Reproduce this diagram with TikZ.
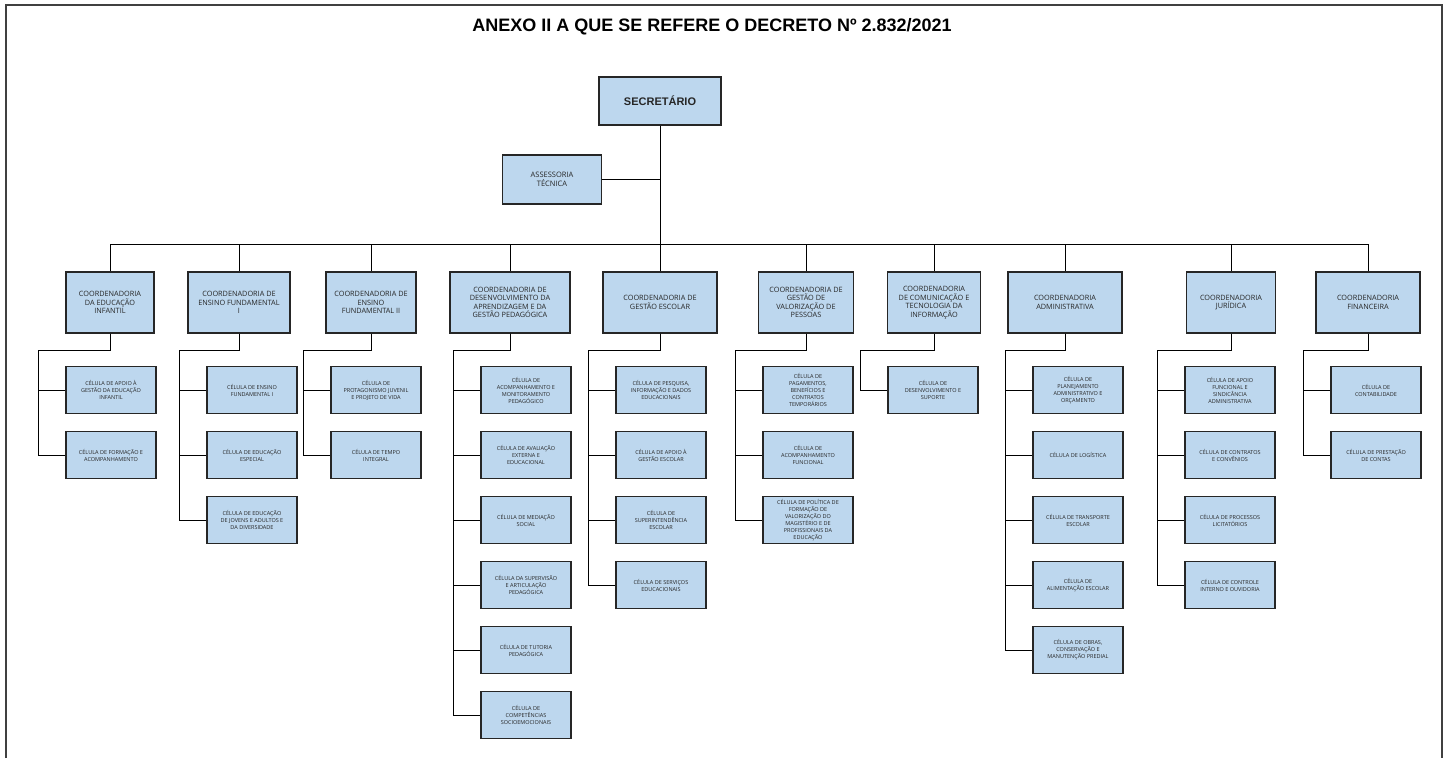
\documentclass[tikz,border=0pt]{standalone}
\usepackage{fontspec}
\setmainfont{Open Sans}
\newfontfamily\titlefont{Liberation Sans}
\definecolor{boxblue}{RGB}{189,215,238}
\definecolor{boxline}{RGB}{38,38,38}

\begin{document}
\begin{tikzpicture}[x=1pt,y=-1pt,
    box/.style={draw=boxline,line width=1.1pt,fill=boxblue,align=center,inner sep=1pt,text=boxline},
    chief/.style={box,minimum width=122,minimum height=48,font=\titlefont\bfseries\fontsize{11}{13}\selectfont},
    advisor/.style={box,minimum width=99,minimum height=49,font=\fontsize{7.5}{8.5}\selectfont},
    coord/.style={box,minimum height=61,font=\fontsize{7.3}{8.5}\selectfont},
    cell/.style={box,minimum width=90,minimum height=47,font=\fontsize{5.5}{7}\selectfont},
    link/.style={line width=0.9pt}]
      \useasboundingbox (0,0) rectangle (1450,758);
      \draw[line width=1.2pt,black!75] (6,758) -- (6,5) -- (1442,5) -- (1442,758);

      \node[font=\titlefont\bfseries\fontsize{18}{20}\selectfont] (title) at (712,27) {ANEXO II A QUE SE REFERE O DECRETO Nº 2.832/2021};

      \node[chief] (sec) at (660,101) {SECRETÁRIO};
      \node[advisor] (ass) at (552,179.5) {ASSESSORIA\\TÉCNICA};

      \node[coord,minimum width=88] (c1) at (110,302.5) {COORDENADORIA\\DA EDUCAÇÃO\\INFANTIL};
      \node[coord,minimum width=102] (c2) at (239,302.5) {COORDENADORIA DE\\ENSINO FUNDAMENTAL\\I};
      \node[coord,minimum width=90] (c3) at (371,302.5) {COORDENADORIA DE\\ENSINO\\FUNDAMENTAL II};
      \node[coord,minimum width=120] (c4) at (510,302.5) {COORDENADORIA DE\\DESENVOLVIMENTO DA\\APRENDIZAGEM E DA\\GESTÃO PEDAGÓGICA};
      \node[coord,minimum width=114] (c5) at (660,302.5) {COORDENADORIA DE\\GESTÃO ESCOLAR};
      \node[coord,minimum width=95] (c6) at (806,302.5) {COORDENADORIA DE\\GESTÃO DE\\VALORIZAÇÃO DE\\PESSOAS};
      \node[coord,minimum width=93] (c7) at (934,302.5) {COORDENADORIA\\DE COMUNICAÇÃO E\\TECNOLOGIA DA\\INFORMAÇÃO};
      \node[coord,minimum width=114] (c8) at (1065,302.5) {COORDENADORIA\\ADMINISTRATIVA};
      \node[coord,minimum width=89] (c9) at (1231,302.5) {COORDENADORIA\\JURÍDICA};
      \node[coord,minimum width=104] (c10) at (1368,302.5) {COORDENADORIA\\FINANCEIRA};

      \node[cell] (c1a) at (111,390) {CÉLULA DE APOIO À\\GESTÃO DA EDUCAÇÃO\\INFANTIL};
      \node[cell] (c1b) at (111,455) {CÉLULA DE FORMAÇÃO E\\ACOMPANHAMENTO};

      \node[cell] (c2a) at (252,390) {CÉLULA DE ENSINO\\FUNDAMENTAL I};
      \node[cell] (c2b) at (252,455) {CÉLULA DE EDUCAÇÃO\\ESPECIAL};
      \node[cell] (c2c) at (252,520) {CÉLULA DE EDUCAÇÃO\\DE JOVENS E ADULTOS E\\DA DIVERSIDADE};

      \node[cell] (c3a) at (376,390) {CÉLULA DE\\PROTAGONISMO JUVENIL\\E PROJETO DE VIDA};
      \node[cell] (c3b) at (376,455) {CÉLULA DE TEMPO\\INTEGRAL};

      \node[cell] (c4a) at (526,390) {CÉLULA DE\\ACOMPANHAMENTO E\\MONITORAMENTO\\PEDAGÓGICO};
      \node[cell] (c4b) at (526,455) {CÉLULA DE AVALIAÇÃO\\EXTERNA E\\EDUCACIONAL};
      \node[cell] (c4c) at (526,520) {CÉLULA DE MEDIAÇÃO\\SOCIAL};
      \node[cell] (c4d) at (526,585) {CÉLULA DA SUPERVISÃO\\E ARTICULAÇÃO\\PEDAGÓGICA};
      \node[cell] (c4e) at (526,650) {CÉLULA DE TUTORIA\\PEDAGÓGICA};
      \node[cell] (c4f) at (526,715) {CÉLULA DE\\COMPETÊNCIAS\\SOCIOEMOCIONAIS};

      \node[cell] (c5a) at (661,390) {CÉLULA DE PESQUISA,\\INFORMAÇÃO E DADOS\\EDUCACIONAIS};
      \node[cell] (c5b) at (661,455) {CÉLULA DE APOIO À\\GESTÃO ESCOLAR};
      \node[cell] (c5c) at (661,520) {CÉLULA DE\\SUPERINTENDÊNCIA\\ESCOLAR};
      \node[cell] (c5d) at (661,585) {CÉLULA DE SERVIÇOS\\EDUCACIONAIS};

      \node[cell] (c6a) at (808,390) {CÉLULA DE\\PAGAMENTOS,\\BENEFÍCIOS E\\CONTRATOS\\TEMPORÁRIOS};
      \node[cell] (c6b) at (808,455) {CÉLULA DE\\ACOMPANHAMENTO\\FUNCIONAL};
      \node[cell] (c6c) at (808,520) {CÉLULA DE POLÍTICA DE\\FORMAÇÃO DE\\VALORIZAÇÃO DO\\MAGISTÉRIO E DE\\PROFISSIONAIS DA\\EDUCAÇÃO};

      \node[cell] (c7a) at (933,390) {CÉLULA DE\\DESENVOLVIMENTO E\\SUPORTE};

      \node[cell] (c8a) at (1078,390) {CÉLULA DE\\PLANEJAMENTO\\ADMINISTRATIVO E\\ORÇAMENTO};
      \node[cell] (c8b) at (1078,455) {CÉLULA DE LOGÍSTICA};
      \node[cell] (c8c) at (1078,520) {CÉLULA DE TRANSPORTE\\ESCOLAR};
      \node[cell] (c8d) at (1078,585) {CÉLULA DE\\ALIMENTAÇÃO ESCOLAR};
      \node[cell] (c8e) at (1078,650) {CÉLULA DE OBRAS,\\CONSERVAÇÃO E\\MANUTENÇÃO PREDIAL};

      \node[cell] (c9a) at (1230,390) {CÉLULA DE APOIO\\FUNCIONAL E\\SINDICÂNCIA\\ADMINISTRATIVA};
      \node[cell] (c9b) at (1230,455) {CÉLULA DE CONTRATOS\\E CONVÊNIOS};
      \node[cell] (c9c) at (1230,520) {CÉLULA DE PROCESSOS\\LICITATÓRIOS};
      \node[cell] (c9d) at (1230,585) {CÉLULA DE CONTROLE\\INTERNO E OUVIDORIA};

      \node[cell] (c10a) at (1376,390) {CÉLULA DE\\CONTABILIDADE};
      \node[cell] (c10b) at (1376,455) {CÉLULA DE PRESTAÇÃO\\DE CONTAS};

      \coordinate (bus) at (660,244);
      \coordinate (t1) at (38,350);
      \coordinate (t2) at (179,350);
      \coordinate (t3) at (303,350);
      \coordinate (t4) at (453,350);
      \coordinate (t5) at (588,350);
      \coordinate (t6) at (735,350);
      \coordinate (t7) at (860,350);
      \coordinate (t8) at (1005,350);
      \coordinate (t9) at (1157,350);
      \coordinate (t10) at (1303,350);

      \draw[link] (sec.south) -- (c5.north);
      \draw[link] (ass.east) -- (ass.east -| sec.south);
      \foreach \i in {1,...,10}
        \draw[link] (bus) -| (c\i.north);
      \foreach \i/\cells in {1/{a,b},2/{a,b,c},3/{a,b},4/{a,b,c,d,e,f},5/{a,b,c,d},
                            6/{a,b,c},7/{a},8/{a,b,c,d,e},9/{a,b,c,d},10/{a,b}}
        \foreach \j in \cells
          \draw[link] (c\i.south) |- (t\i) |- (c\i\j.west);
    \end{tikzpicture}
\end{document}
